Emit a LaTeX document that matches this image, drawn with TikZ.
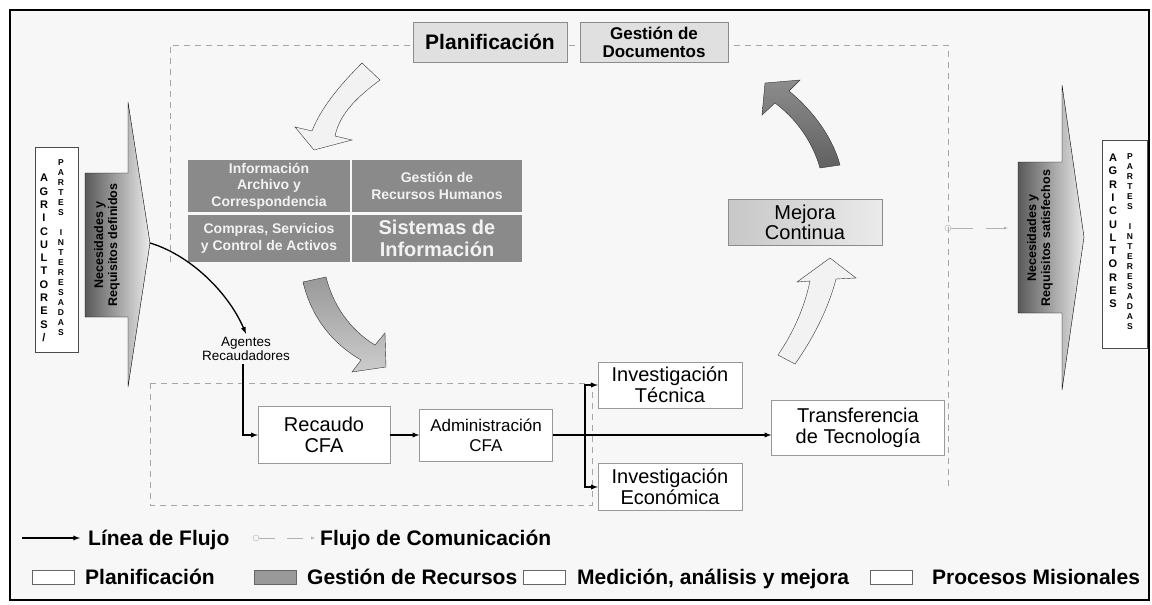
\documentclass[tikz,border=0pt]{standalone}
\usepackage{fontspec}
\setmainfont{Liberation Sans}
\newcommand{\fsz}[2]{\fontsize{#1}{#2}\selectfont}

\begin{document}
\begin{tikzpicture}
[
x=1pt, y=-1pt,
>=latex,
Frame/.style={draw=black, line width=1.6pt, fill=black!03},
Dashline/.style={draw=black!35, thin, dash pattern=on 6pt off 5pt},
Planbox/.style={rectangle, draw=black!45, fill=black!12, minimum height=40pt, inner sep=2pt, font=\bfseries\fsz{17}{18}, align=center},
Resbox/.style={rectangle, fill=black!46, text=black!05, font=\bfseries\fsz{14}{16.5}, align=center, inner sep=0pt},
Misbox/.style={rectangle, draw=black!40, fill=white, font=\fsz{20}{21}, align=center, inner sep=0pt},
Medbox/.style={rectangle, draw=black!45, left color=black!22, right color=black!08, font=\fsz{20}{20}, align=center},
Flow/.style={->, draw=black, line width=1.3pt},
Comm/.style={->, draw=black!30, thin, dash pattern=on 22pt off 13pt},
Needs/.style={draw=black, thin, left color=black!65, right color=black!08},
Needtext/.style={rotate=90, font=\bfseries\fsz{12.5}{14}, align=center},
Partbox/.style={rectangle, draw=black!70, fill=white, thin},
Bigletters/.style={font=\bfseries\fsz{11}{13.3}, align=center, inner sep=0pt},
Smallletters/.style={font=\bfseries\fsz{8.5}{10}, align=center, inner sep=0pt},
Lightarrow/.style={draw=black!80, thin, fill=black!05},
Midarrow/.style={draw=black!80, thin, top color=black!40, bottom color=black!20},
Darkarrow/.style={draw=black!80, thin, top color=black!45, bottom color=black!62},
Legend/.style={font=\bfseries\fsz{21}{22}, anchor=base west, inner sep=0pt},
Legbox/.style={rectangle, draw=black!60, minimum width=42pt, minimum height=14pt, inner sep=0pt}
]

\useasboundingbox (0,0) rectangle (1152,605);
\draw[Frame] (10,10) rectangle (1149,600);

% dashed regions
\draw[Dashline] (170,262) -- (170,45) -- (948,45) -- (948,488);
\draw[Dashline] (150,383) rectangle (592,505);

% big curved arrows
\draw[Lightarrow] (362,63) .. controls (345,80) and (322,105) .. (312,131) -- (295,127) -- (314,150) -- (352,140) -- (335,136) .. controls (340,112) and (360,95) .. (380,80) -- cycle;
\draw[Midarrow] (303,282) .. controls (312,320) and (335,345) .. (361,360) -- (352,372) -- (386,367) -- (385,333) -- (375,345) .. controls (350,330) and (333,305) .. (326,277) -- cycle;
\draw[Lightarrow] (778,355) .. controls (795,330) and (805,305) .. (810,281) -- (797,282) -- (830,258) -- (856,278) -- (836,279) .. controls (828,310) and (812,340) .. (795,364) -- cycle;
\draw[Darkarrow] (820,168) .. controls (812,140) and (795,118) .. (775,103) -- (762,115) -- (765,83) -- (800,80) -- (789,91) .. controls (810,108) and (832,135) .. (840,165) -- cycle;

% planning boxes
\node[Planbox, minimum width=154pt, font=\bfseries\fsz{21}{22}] (plan) at (490,42) {Planificación};
\node[Planbox, minimum width=148pt] (docs) at (654,42) {Gestión de\\Documentos};

% resources block
\node[Resbox, minimum width=162pt, minimum height=52pt] (info) at (269,186) {Información\\Archivo y\\Correspondencia};
\node[Resbox, minimum width=170pt, minimum height=52pt] (rrhh) at (437,186) {Gestión de\\Recursos Humanos};
\node[Resbox, minimum width=162pt, minimum height=47pt] (compras) at (269,238.5) {Compras, Servicios\\y Control de Activos};
\node[Resbox, minimum width=170pt, minimum height=47pt, font=\bfseries\fsz{20}{22}] (sistemas) at (437,238.5) {Sistemas de\\Información};

% improvement
\node[Medbox, minimum width=154pt, minimum height=46pt] (mejora) at (805,222) {Mejora\\Continua};

% mission processes
\node[Misbox, minimum width=132pt, minimum height=57pt] (recaudo) at (324,435) {Recaudo\\CFA};
\node[Misbox, minimum width=133pt, minimum height=52pt, font=\fsz{17}{20}] (admin) at (486,435) {Administración\\CFA};
\node[Misbox, minimum width=144pt, minimum height=46pt] (invtec) at (670,385) {Investigación\\Técnica};
\node[Misbox, minimum width=144pt, minimum height=47pt] (inveco) at (670,487) {Investigación\\Económica};
\node[Misbox, minimum width=173pt, minimum height=55pt] (transf) at (858,428) {Transferencia\\de Tecnología};
\node[font=\fsz{13.5}{14}, align=center] (agentes) at (246,349) {Agentes\\Recaudadores};

% stakeholders in
\draw[Needs] (85,173) -- (128,173) -- (128,102) -- (150,243) -- (128,387) -- (128,317) -- (85,317) -- cycle;
\node[Needtext] (needsin) at (107,245) {Necesidades y\\Requisitos definidos};
\coordinate (ntip) at (150,243);
\node[Partbox, minimum width=43pt, minimum height=205pt] (agriin) at (56.5,249.5) {};
\node[Bigletters] (agriinA) at (44,258) {A\\G\\R\\I\\C\\U\\L\\T\\O\\R\\E\\S\\/};
\node[Smallletters] (partin) at (61,248) {P\\A\\R\\T\\E\\S\\[10pt]I\\N\\T\\E\\R\\E\\S\\A\\D\\A\\S};

% stakeholders out
\draw[Needs] (1018,162) -- (1062,162) -- (1062,85) -- (1084,237) -- (1062,390) -- (1062,313) -- (1018,313) -- cycle;
\node[Needtext] (needsout) at (1040,238) {Necesidades y\\Requisitos satisfechos};
\node[Partbox, minimum width=45pt, minimum height=208pt] (agriout) at (1124.5,244) {};
\node[Bigletters] (agrioutA) at (1113,231) {A\\G\\R\\I\\C\\U\\L\\T\\O\\R\\E\\S};
\node[Smallletters] (partout) at (1130,242) {P\\A\\R\\T\\E\\S\\[10pt]I\\N\\T\\E\\R\\E\\S\\A\\D\\A\\S};

% communication
\coordinate (commstart) at (948,228);
\coordinate (commend) at (1008,228);
\draw[black!30] (commstart) circle (3pt);
\draw[Comm] ([xshift=3pt]commstart) -- (commend);

% flow lines
\draw[Flow] (ntip) .. controls (190,255) and (228,292) .. (agentes.north);
\draw[Flow] ([xshift=-3pt]agentes.south) |- (recaudo.west);
\draw[Flow] (recaudo.east) -- (admin.west);
\coordinate (split) at (585,435);
\draw[line width=1.3pt] (admin.east) -- (split);
\draw[Flow] (split) |- (invtec.west);
\draw[Flow] (split) |- (inveco.west);
\draw[Flow] (split) -- (split -| transf.west);

% legend
\coordinate (legflowa) at (22,538);
\coordinate (legflowb) at (80,538);
\draw[Flow] (legflowa) -- (legflowb);
\node[Legend] (legflow) at (88,545.5) {Línea de Flujo};
\coordinate (legcomma) at (256,538);
\coordinate (legcommb) at (315,538);
\draw[black!30] (legcomma) circle (3pt);
\draw[Comm, dash pattern=on 16pt off 12pt] ([xshift=3pt]legcomma) -- (legcommb);
\node[Legend] (legcomm) at (320,545.5) {Flujo de Comunicación};
\node[Legbox, fill=white] (legplanbox) at (53,577) {};
\node[Legend] (legplan) at (85,584.5) {Planificación};
\node[Legbox, fill=black!40] (legresbox) at (275.5,577) {};
\node[Legend] (legres) at (307,584.5) {Gestión de Recursos};
\node[Legbox, fill=white] (legmedbox) at (544.5,577) {};
\node[Legend] (legmed) at (577,584.5) {Medición, análisis y mejora};
\node[Legbox, fill=white] (legmisbox) at (891.5,577) {};
\node[Legend] (legmis) at (932,584.5) {Procesos Misionales};
\end{tikzpicture}
\end{document}
